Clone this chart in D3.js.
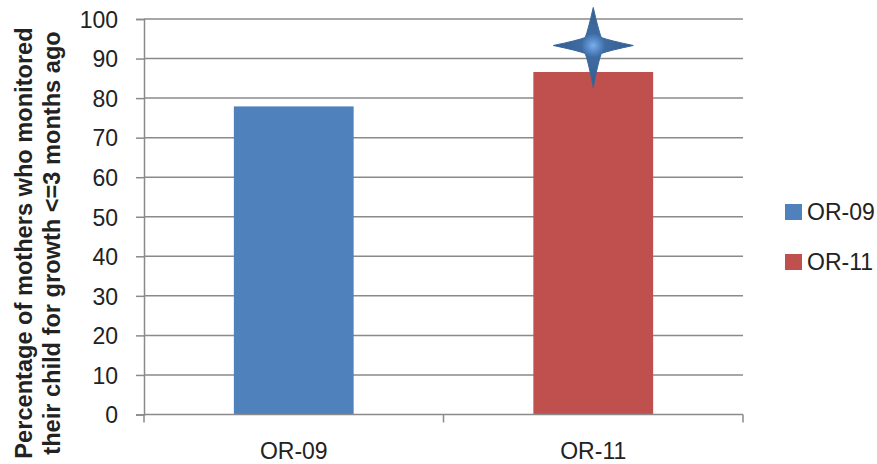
<!DOCTYPE html>
<html><head><meta charset="utf-8">
<script src="https://cdn.jsdelivr.net/npm/d3@7"></script>
<style>body{margin:0;background:#fff}svg{display:block}text{font-family:"Liberation Sans",Arial,sans-serif;fill:#222}</style>
</head><body><svg id="c" width="877" height="464"></svg>
<script>
const categories = ["OR-09", "OR-11"];
const values = [77.9, 86.6];
const colors = ["#4f81bd", "#c0504d"];
const yTicks = [0, 10, 20, 30, 40, 50, 60, 70, 80, 90, 100];
const starMarkers = [{category: "OR-11", value: 93.3}];
const titleLines = ["Percentage of mothers who monitored", "their child for growth <=3 months ago"];

const svg = d3.select("#c");
const m = {left: 144, right: 743, top: 19, bottom: 414.5};
const x = d3.scaleBand().domain(categories).range([m.left, m.right]).paddingInner(0.6).paddingOuter(0.3);
const xb = d3.scaleBand().domain(categories).range([m.left, m.right]);
const y = d3.scaleLinear().domain([0, 100]).range([m.bottom, m.top]);

const defs = svg.append("defs");
const rg = defs.append("radialGradient").attr("id", "sg").attr("gradientUnits", "userSpaceOnUse")
  .attr("cx", 0).attr("cy", 0).attr("r", 40);
rg.append("stop").attr("offset", "0%").attr("stop-color", "#7eaee6");
rg.append("stop").attr("offset", "14%").attr("stop-color", "#5a8ecd");
rg.append("stop").attr("offset", "30%").attr("stop-color", "#3e6ba2");
rg.append("stop").attr("offset", "100%").attr("stop-color", "#345e90");
defs.append("filter").attr("id", "soft").append("feGaussianBlur").attr("stdDeviation", 0.6);

// gridlines
svg.append("g").selectAll("line").data(yTicks.filter(d => d > 0)).join("line")
  .attr("x1", m.left).attr("x2", m.right).attr("y1", d => y(d)).attr("y2", d => y(d))
  .attr("stroke", "#8a8a8a").attr("stroke-width", 1.5);

// y axis
const ya = svg.append("g").attr("transform", `translate(${m.left},0)`)
  .call(d3.axisLeft(y).tickValues(yTicks).tickSize(8).tickPadding(18));
ya.select(".domain").attr("stroke", "#8a8a8a").attr("stroke-width", 1.5);
ya.selectAll(".tick line").attr("stroke", "#8a8a8a").attr("stroke-width", 1.5);
ya.selectAll(".tick text").attr("font-size", 23).attr("font-family", "Liberation Sans, Arial, sans-serif").attr("fill", "#222").attr("dy", "0.36em");

// bars
svg.append("g").selectAll("rect").data(values).join("rect")
  .attr("x", (d, i) => x(categories[i])).attr("width", x.bandwidth())
  .attr("y", d => y(d)).attr("height", d => y(0) - y(d))
  .attr("fill", (d, i) => colors[i]);

// x axis
const xa = svg.append("g").attr("transform", `translate(0,${m.bottom})`)
  .call(d3.axisBottom(xb).tickSize(0).tickPadding(28));
xa.select(".domain").remove();
xa.append("line").attr("x1", m.left).attr("x2", m.right).attr("stroke", "#8a8a8a").attr("stroke-width", 1.5);
const xt = [m.left].concat(categories.map(c => xb(c) + xb.bandwidth()));
xa.selectAll(".xt").data(xt).join("line").attr("class", "xt")
  .attr("x1", d => d).attr("x2", d => d).attr("y1", 0).attr("y2", 8)
  .attr("stroke", "#8a8a8a").attr("stroke-width", 1.5);
xa.selectAll(".tick text").attr("font-size", 23).attr("font-family", "Liberation Sans, Arial, sans-serif").attr("fill", "#222");

// star marker
const starPath = "M0,-38 Q5,-16 8,-8 Q16,-5 40,0 Q16,5 8,8 Q5,16 0,42 Q-5,16 -8,8 Q-16,5 -40,0 Q-16,-5 -8,-8 Q-5,-16 0,-38 Z";
svg.append("g").selectAll("path").data(starMarkers).join("path")
  .attr("transform", d => `translate(${x(d.category) + x.bandwidth() / 2},${y(d.value)})`)
  .attr("d", starPath).attr("fill", "url(#sg)").attr("stroke", "#3a6699").attr("stroke-width", 1)
  .attr("filter", "url(#soft)");

// y title
const yt = svg.append("text").attr("transform", "translate(0,243) rotate(-90)")
  .attr("text-anchor", "middle").attr("font-weight", "bold").attr("font-size", 23.6).attr("fill", "#111");
yt.selectAll("tspan").data(titleLines).join("tspan")
  .attr("x", 0).attr("y", (d, i) => 32 + i * 28).text(d => d);

// legend
const lg = svg.append("g").selectAll("g").data(categories).join("g")
  .attr("transform", (d, i) => `translate(785,${204 + i * 50})`);
lg.append("rect").attr("width", 17).attr("height", 16).attr("fill", (d, i) => colors[i]);
lg.append("text").attr("x", 22).attr("y", 16).attr("font-size", 23).text(d => d);
</script></body></html>
